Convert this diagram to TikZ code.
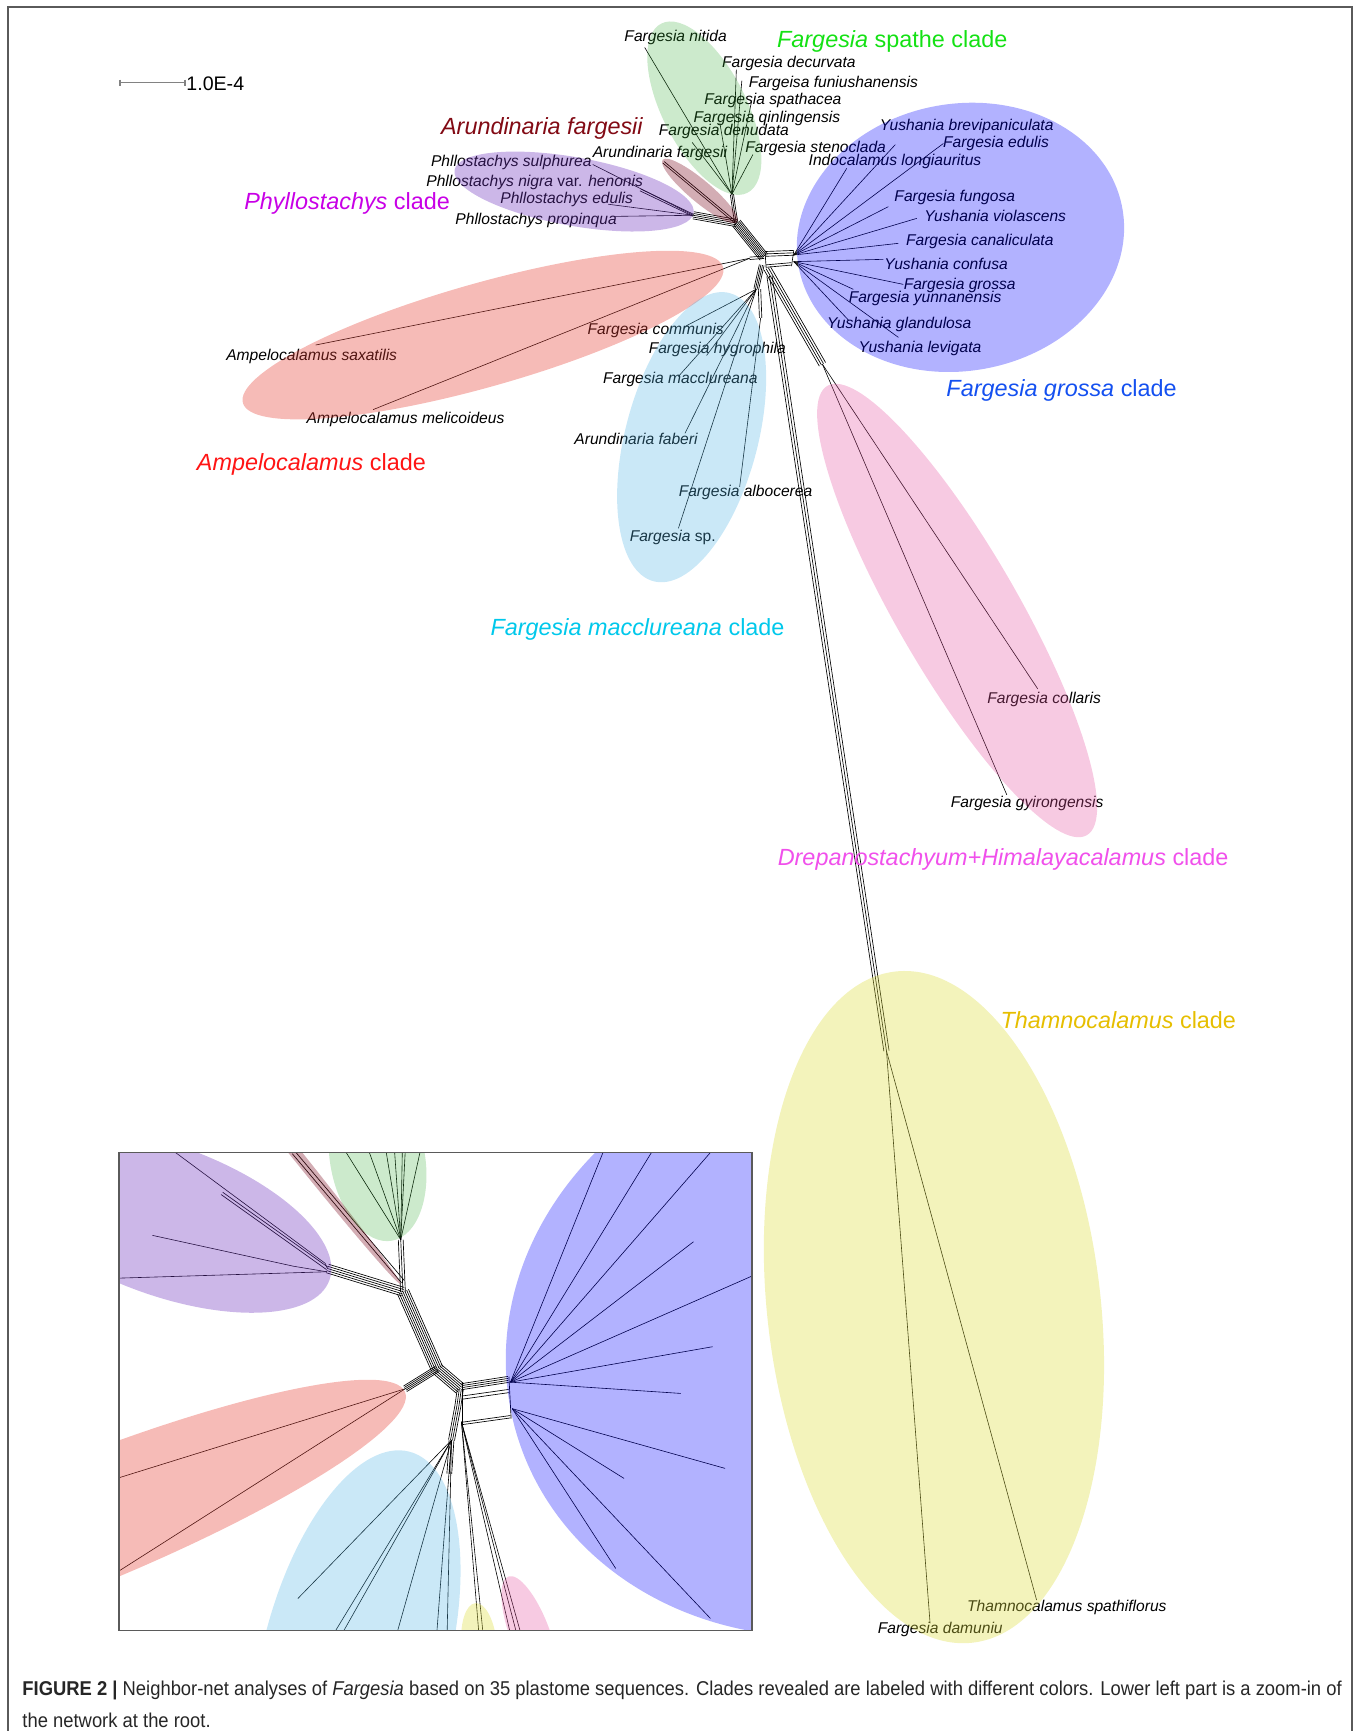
\documentclass[tikz,border=0pt]{standalone}
\usepackage{fontspec}
\setmainfont{Liberation Sans}
\newfontfamily\capfont[FakeStretch=0.92]{Liberation Sans}
\usetikzlibrary{calc}
\definecolor{cSpathe}{RGB}{20,225,20}
\definecolor{cArun}{RGB}{130,10,20}
\definecolor{cPhyl}{RGB}{200,0,230}
\definecolor{cGross}{RGB}{20,80,240}
\definecolor{cAmpel}{RGB}{255,20,20}
\definecolor{cMacc}{RGB}{0,200,235}
\definecolor{cDrep}{RGB}{240,80,235}
\definecolor{cThamn}{RGB}{230,190,0}
\definecolor{fGreen}{RGB}{51,170,51}
\definecolor{fDark}{RGB}{128,20,40}
\definecolor{fPurple}{RGB}{110,50,190}
\definecolor{fRed}{RGB}{230,60,50}
\definecolor{fBlue}{RGB}{0,0,255}
\definecolor{fCyan}{RGB}{80,180,230}
\definecolor{fPink}{RGB}{230,80,160}
\definecolor{fYellow}{RGB}{220,220,60}
\definecolor{frameGray}{RGB}{90,90,90}
\definecolor{barGray}{RGB}{130,130,130}
\tikzset{
  taxon/.style={anchor=west, inner sep=0pt, font=\fontsize{7.8}{9}\selectfont\itshape},
  cladelab/.style={anchor=west, inner sep=0pt, font=\fontsize{11.7}{14}\selectfont},
  capstyle/.style={anchor=west, inner sep=0pt, text=black!85, font=\capfont\fontsize{10}{12}\selectfont},
  net/.style={line width=0.33pt, black},
  leaf/.style={line width=0.3pt, black},
  framec/.style={line width=0.9pt, frameGray},
}
\newcommand\bundle[3]{\foreach \off in {#3}{\draw[net] ($(#1)!\off pt!90:(#2)$) -- ($(#2)!\off pt!-90:(#1)$);}}
\newcommand\blob[6]{\fill[#1, fill opacity=#6, shift={(#2)}, rotate=#3] (0,0) ellipse [x radius=#4, y radius=#5];}
\begin{document}
\begin{tikzpicture}[x=0.552pt,y=-0.552pt]
\useasboundingbox (0,0) rectangle (1232,1568);
% outer frame
\coordinate (fr1) at (7,1568); \coordinate (fr2) at (7,6);
\coordinate (fr3) at (1225,6); \coordinate (fr4) at (1225,1568);
\draw[framec] (fr1) -- (fr2) -- (fr3) -- (fr4);
% scale bar
\coordinate (sb1) at (108.7,74.9); \coordinate (sb2) at (167.6,74.9);
\draw[barGray, line width=0.8pt] (sb1) -- (sb2);
\draw[barGray, line width=0.6pt] ($(sb1)+(0,-2.7)$) -- ($(sb1)+(0,2.7)$);
\draw[barGray, line width=0.6pt] ($(sb2)+(0,-2.7)$) -- ($(sb2)+(0,2.7)$);
\node[anchor=west, inner sep=0pt, font=\fontsize{9.8}{11}\selectfont] (sbt) at (168.5,75.5) {1.0E-4};

% ================= main network =================
\coordinate (gT) at (663,176);
\coordinate (gB) at (665,190);
\coordinate (jA) at (667,202);
\coordinate (pN) at (628,195);
\coordinate (hub) at (692,233);
\coordinate (bN) at (719,231);
\coordinate (bN2) at (719,237);
% green leaves
\coordinate (e-nit) at (584,43);
\coordinate (e-dec) at (667,63);
\coordinate (e-fun) at (672,73);
\coordinate (e-spa) at (681,91);
\coordinate (e-qin) at (652,111);
\coordinate (e-den) at (627,129);
\coordinate (e-ste) at (682,140);
\foreach \e in {nit,dec,fun,spa,qin,den,ste} \draw[leaf] (gT) -- (e-\e);
\bundle{gT}{gB}{-0.8,0,0.8}
\bundle{gB}{jA}{-0.8,0,0.8}
% dark red leaf
\coordinate (e-arf) at (601,147);
\bundle{e-arf}{jA}{-0.5,0.5}
% purple leaves
\coordinate (e-sul) at (537,149);
\coordinate (e-nig) at (580,172);
\coordinate (e-edu) at (551,185);
\coordinate (e-pro) at (557,196);
\draw[leaf] (e-sul) -- (pN);
\bundle{e-nig}{pN}{-0.5,0.5}
\draw[leaf] (e-edu) -- (pN);
\draw[leaf] (e-pro) -- (pN);
\bundle{pN}{jA}{-1.8,-0.9,0,0.9,1.8}
\bundle{jA}{hub}{-2.4,-1.6,-0.8,0,0.8,1.6,2.4}
% blue ladder
\coordinate (lad1) at (693,230); \coordinate (lad2) at (719,229);
\bundle{lad1}{lad2}{-1.2,0,1.2}
\coordinate (lad3) at (694,241); \coordinate (lad4) at (717,239);
\bundle{lad3}{lad4}{-0.6,0.6}
\coordinate (lad5) at (693,228); \coordinate (lad6) at (694,243);
\coordinate (lad7) at (719,227); \coordinate (lad8) at (717,241);
\draw[net] (lad5) -- (lad6); \draw[net] (lad7) -- (lad8);
% blue leaves
\coordinate (e-bre) at (811,131);
\coordinate (e-edl) at (854.5,130);
\coordinate (e-ind) at (767,152.5);
\coordinate (e-fng) at (804.7,187.2);
\coordinate (e-vio) at (830.4,197.8);
\coordinate (e-can) at (813.8,220.4);
\foreach \e in {bre,edl,ind,fng,vio,can} \draw[leaf] (bN) -- (e-\e);
\coordinate (e-con) at (800.2,234.9);
\coordinate (e-gro) at (818.3,257.6);
\coordinate (e-yun) at (773,262.1);
\coordinate (e-gla) at (768.5,289.9);
\coordinate (e-lev) at (813.8,305.6);
\foreach \e in {con,gro,yun,gla,lev} \draw[leaf] (bN2) -- (e-\e);
% red branch
\coordinate (rN) at (679,234);
\bundle{hub}{rN}{-0.6,0.6}
\coordinate (e-sax) at (286,312.5);
\coordinate (e-mel) at (338,371);
\draw[leaf] (rN) -- (e-sax);
\draw[leaf] (rN) -- (e-mel);
% cyan branch
\coordinate (dA) at (690,240); \coordinate (dB) at (685,262);
\bundle{dA}{dB}{-1.2,-0.4,0.4,1.2}
\coordinate (e-com) at (620,296);
\coordinate (e-hyg) at (640,322);
\coordinate (e-mac) at (614.5,341);
\coordinate (e-fab) at (620.5,392.5);
\coordinate (e-sp) at (614.5,478.6);
\foreach \e in {com,hyg,mac,fab,sp} \draw[leaf] (dB) -- (e-\e);
\coordinate (aA) at (688,262); \coordinate (aB) at (689,288);
\bundle{aA}{aB}{-0.6,0.6}
\coordinate (e-alb) at (670,441);
\draw[leaf] (aB) -- (e-alb);
% pink branch
\coordinate (kA) at (695,243); \coordinate (kB) at (745,330);
\bundle{kA}{kB}{-1.8,-0.6,0.6,1.8}
\coordinate (e-col) at (940,624);
\coordinate (e-gyi) at (912,720);
\draw[leaf] (kB) -- (e-col);
\draw[leaf] (kB) -- (e-gyi);
% yellow trunk
\coordinate (yA) at (697,250); \coordinate (yB) at (803,952);
\bundle{yA}{yB}{-1.3,0,1.3}
\coordinate (e-dam) at (842.5,1470.5);
\coordinate (e-spf) at (939,1449.4);
\draw[leaf] (yB) -- (e-dam);
\draw[leaf] (yB) -- (e-spf);

% ================= taxon labels =================
\node[taxon] (t-nit) at (565.3,33.8) {Fargesia nitida};
\node[taxon] (t-dec) at (653.8,57.4) {Fargesia decurvata};
\node[taxon] (t-fun) at (677.9,75.5) {Fargeisa funiushanensis};
\node[taxon] (t-spa) at (637.7,91.2) {Fargesia spathacea};
\node[taxon] (t-qin) at (628,107.2) {Fargesia qinlingensis};
\node[taxon] (t-den) at (596.4,119.3) {Fargesia denudata};
\node[taxon] (t-ste) at (674.9,134.4) {Fargesia stenoclada};
\node[taxon] (t-arf) at (536.6,138.9) {Arundinaria fargesii};
\node[taxon] (t-sul) at (390.1,147) {Phllostachys sulphurea};
\node[taxon] (t-nig) at (385.9,165.5) {Phllostachys nigra \upshape var. \itshape henonis};
\node[taxon] (t-edu) at (452.9,180.3) {Phllostachys edulis};
\node[taxon] (t-pro) at (412.2,199.3) {Phllostachys propinqua};
\node[taxon] (t-bre) at (796.6,114.1) {Yushania brevipaniculata};
\node[taxon] (t-edl) at (854,129.8) {Fargesia edulis};
\node[taxon] (t-ind) at (732.2,146.4) {Indocalamus longiauritus};
\node[taxon] (t-fng) at (809.9,179) {Fargesia fungosa};
\node[taxon] (t-vio) at (837,195.7) {Yushania violascens};
\node[taxon] (t-can) at (820.4,218.3) {Fargesia canaliculata};
\node[taxon] (t-con) at (800.8,239.2) {Yushania confusa};
\node[taxon] (t-gro) at (818.3,258.8) {Fargesia grossa};
\node[taxon] (t-yun) at (768.5,270.3) {Fargesia yunnanensis};
\node[taxon] (t-gla) at (748.9,293.8) {Yushania glandulosa};
\node[taxon] (t-lev) at (777.5,315.6) {Yushania levigata};
\node[taxon] (t-sax) at (204.6,322.5) {Ampelocalamus saxatilis};
\node[taxon] (t-mel) at (277.5,379.9) {Ampelocalamus melicoideus};
\node[taxon] (t-com) at (532,299.5) {Fargesia communis};
\node[taxon] (t-hyg) at (587.3,316.2) {Fargesia hygrophila};
\node[taxon] (t-mac) at (546,343.6) {Fargesia macclureana};
\node[taxon] (t-fab) at (520,397.4) {Arundinaria faberi};
\node[taxon] (t-alb) at (614.5,445.7) {Fargesia albocerea};
\node[taxon] (t-sp) at (570.1,487.1) {Fargesia \upshape sp.};
\node[taxon] (t-col) at (894,634) {Fargesia collaris};
\node[taxon] (t-gyi) at (861,728) {Fargesia gyirongensis};
\node[taxon] (t-spf) at (875.7,1456.3) {Thamnocalamus spathiflorus};
\node[taxon] (t-dam) at (794.8,1475.7) {Fargesia damuniu};

% ================= clade labels =================
\node[cladelab, text=cSpathe] (c-spa) at (703.6,37.8) {\itshape Fargesia\upshape\ spathe clade};
\node[cladelab, text=cArun] (c-arf) at (399.2,116.3) {\itshape Arundinaria fargesii};
\node[cladelab, text=cPhyl] (c-phy) at (221,184) {\itshape Phyllostachys\upshape\ clade};
\node[cladelab, text=cGross] (c-gro) at (857,354) {\itshape Fargesia grossa\upshape\ clade};
\node[cladelab, text=cAmpel] (c-amp) at (178,421) {\itshape Ampelocalamus\upshape\ clade};
\node[cladelab, text=cMacc] (c-mac) at (444,570) {\itshape Fargesia macclureana\upshape\ clade};
\node[cladelab, text=cDrep] (c-dre) at (704.2,778.4) {\itshape Drepanostachyum+Himalayacalamus\upshape\ clade};
\node[cladelab, text=cThamn] (c-tha) at (906,924) {\itshape Thamnocalamus\upshape\ clade};

% ================= main ellipses =================
\blob{fGreen}{638,98}{-63}{86}{38}{0.25}
\blob{fDark}{634,173}{-40}{44}{10}{0.35}
\blob{fPurple}{520,173.5}{-10.2}{110}{31}{0.35}
\blob{fRed}{437.5,303.5}{15.8}{226}{47}{0.35}
\blob{fBlue}{870,215}{10}{149}{121}{0.3}
\blob{fCyan}{626.5,396}{-104.8}{135}{60}{0.3}
\blob{fPink}{867,553}{-60}{235}{55}{0.3}
\blob{fYellow}{846,1184}{-83.4}{306}{151}{0.35}

% ================= inset =================
\coordinate (in1) at (108,1044); \coordinate (in2) at (681,1477);
\begin{scope}
\clip (in1) rectangle (in2);
\coordinate (iP) at (296.5,1149);
\coordinate (iA) at (365,1170);
\coordinate (iG) at (363,1123);
\coordinate (iM) at (396,1240);
\coordinate (iH) at (417,1258);
\coordinate (iR) at (367,1258);
\coordinate (iB) at (462.4,1252);
\coordinate (iB2) at (464,1276);
% purple
\coordinate (ip1) at (159,1044); \coordinate (ip1b) at (294.6,1144.4);
\draw[leaf] (ip1) -- (ip1b) -- (iP);
\coordinate (ip2) at (201,1081);
\bundle{ip2}{iP}{-0.7,0.7}
\coordinate (ip3) at (138,1119); \coordinate (ip3b) at (266,1147); \coordinate (ip3c) at (296,1152);
\draw[leaf] (ip3) -- (ip3b) -- (ip3c);
\coordinate (ip4) at (100,1158);
\draw[leaf] (ip4) -- (ip3c);
\bundle{iP}{iA}{-2.2,-1.1,0,1.1,2.2}
% dark red
\coordinate (id1) at (266,1044); \coordinate (id2) at (365,1161);
\bundle{id1}{id2}{-0.9,0.9}
% green
\foreach \gx [count=\gi] in {313.6,334.6,349.9,357.5,364.4,367,380.4} {
  \coordinate (ig\gi) at (\gx,1044);
  \draw[leaf] (ig\gi) -- (iG);
}
\bundle{iG}{iA}{-1.2,0,1.2}
% main bundle
\bundle{iA}{iM}{-3,-2,-1,0,1,2,3}
\bundle{iM}{iH}{-3,-2,-1,0,1,2,3}
% red
\bundle{iM}{iR}{-1.6,-0.8,0,0.8,1.6}
\coordinate (ir1) at (100,1341); \coordinate (ir2) at (100,1428);
\draw[leaf] (iR) -- (ir1);
\draw[leaf] (iR) -- (ir2);
% blue ladder
\coordinate (il1) at (418.5,1256); \coordinate (il2) at (460.4,1249.5);
\bundle{il1}{il2}{-1.5,-0.5,0.5,1.5}
\coordinate (il3) at (418.5,1266); \coordinate (il4) at (461,1260);
\bundle{il3}{il4}{-0.8,0.8}
\coordinate (il5) at (418.5,1289.4); \coordinate (il6) at (462.4,1283.3);
\bundle{il5}{il6}{-0.6,0.6}
\coordinate (il7) at (418.5,1252); \coordinate (il8) at (418.5,1291);
\coordinate (il9) at (461,1247); \coordinate (il10) at (463,1285);
\draw[net] (il7) -- (il8); \draw[net] (il9) -- (il10);
% blue leaves
\foreach \bx/\by [count=\bi] in {546.2/1044,590.1/1044,643.5/1044,628.2/1124.8,690/1152,645.4/1219.9,616.8/1262.2} {
  \coordinate (ib\bi) at (\bx,\by);
  \draw[leaf] (iB) -- (ib\bi);
}
\foreach \bx/\by [count=\bi] in {656.8/1330.1,565.3/1339.2,557.7/1420.7,643.5/1466} {
  \coordinate (ic\bi) at (\bx,\by);
  \draw[leaf] (iB2) -- (ic\bi);
}
% downward
\coordinate (iD1) at (414.7,1274); \coordinate (iD2) at (409,1304.5); \coordinate (iD3) at (407,1335);
\bundle{iH}{iD1}{-1.5,-0.5,0.5,1.5}
\bundle{iD1}{iD2}{-1.5,-0.5,0.5,1.5}
\bundle{iD2}{iD3}{-1.2,0,1.2}
% cyan leaves
\foreach \cx/\cy [count=\ci] in {302.2/1480,309.8/1480,269.8/1448,359.4/1480,395.6/1480,405/1480} {
  \coordinate (iq\ci) at (\cx,\cy);
  \draw[leaf] (iD2) -- (iq\ci);
}
% pink / yellow
\coordinate (iK) at (418,1288);
\foreach \kx [count=\ki] in {433.8,437.6,462.4,468.1,471.9} {
  \coordinate (ik\ki) at (\kx,1480);
  \draw[leaf] (iK) -- (ik\ki);
}
% inset ellipses
\blob{fPurple}{148,1105}{-20}{160}{68}{0.35}
\blob{fDark}{269,1046}{-51.3}{150}{5}{0.35}
\blob{fGreen}{342,1050}{-80}{75}{43}{0.25}
\blob{fRed}{60,1385}{22}{331}{58}{0.35}
\blob{fBlue}{756,1215}{-75}{265}{300}{0.3}
\blob{fCyan}{322.7,1497.7}{-104.8}{189}{84}{0.3}
\blob{fYellow}{434,1490}{-85}{38}{16}{0.35}
\blob{fPink}{480,1480}{-69.4}{55.5}{18}{0.3}
\end{scope}
\draw[framec, line width=0.8pt] (in1) rectangle (in2);

% ================= caption =================
\node[capstyle] (cap1) at (20,1531) {{\bfseries FIGURE 2 |} Neighbor-net analyses of \textit{Fargesia} based on 35 plastome sequences. Clades revealed are labeled with different colors. Lower left part is a zoom-in of};
\node[capstyle] (cap2) at (20,1558) {the network at the root.};
\end{tikzpicture}
\end{document}
